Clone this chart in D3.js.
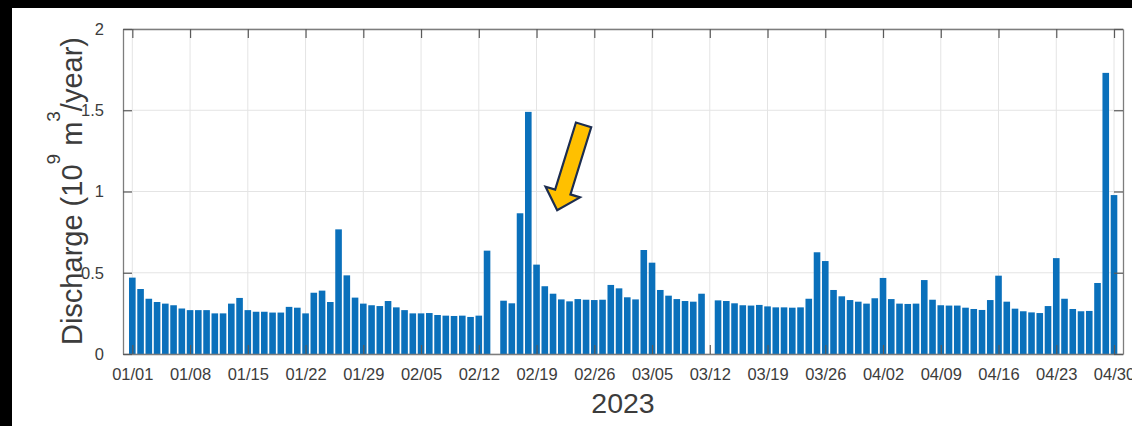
<!DOCTYPE html>
<html>
<head>
<meta charset="utf-8">
<script src="https://cdn.jsdelivr.net/npm/d3@7"></script>
<style>
  html, body { margin: 0; padding: 0; background: #000; }
  svg { display: block; }
  text { font-family: "Liberation Sans", Arial, Helvetica, sans-serif; }
</style>
</head>
<body>
<svg id="chart" width="1132" height="426"></svg>
<script>
// Daily discharge, 2023-01-01 .. 2023-04-30 (null = no observation)
const startDate = "2023-01-01";
const discharge = [
  0.47, 0.40, 0.34, 0.32, 0.31, 0.30, 0.28, 0.27, 0.27, 0.27,
  0.25, 0.25, 0.31, 0.345, 0.27, 0.26, 0.26, 0.255, 0.255, 0.29,
  0.285, 0.25, 0.377, 0.39, 0.32, 0.767, 0.484, 0.347, 0.31, 0.30,
  0.295, 0.326, 0.287, 0.27, 0.25, 0.25, 0.252, 0.24, 0.236, 0.234,
  0.236, 0.228, 0.236, 0.636, null, 0.328, 0.312, 0.866, 1.49, 0.55,
  0.417, 0.371, 0.336, 0.324, 0.338, 0.334, 0.332, 0.334, 0.425, 0.404,
  0.349, 0.336, 0.64, 0.562, 0.394, 0.359, 0.338, 0.326, 0.322, 0.371,
  null, 0.33, 0.326, 0.312, 0.30, 0.298, 0.302, 0.293, 0.287, 0.287,
  0.285, 0.287, 0.34, 0.626, 0.572, 0.394, 0.355, 0.332, 0.322, 0.31,
  0.343, 0.468, 0.338, 0.31, 0.308, 0.31, 0.455, 0.334, 0.30, 0.298,
  0.298, 0.285, 0.277, 0.271, 0.332, 0.482, 0.322, 0.279, 0.263, 0.256,
  0.252, 0.295, 0.59, 0.34, 0.277, 0.263, 0.265, 0.437, 1.73, 0.978
];
const xTickLabels = ["01/01", "01/08", "01/15", "01/22", "01/29", "02/05",
  "02/12", "02/19", "02/26", "03/05", "03/12", "03/19", "03/26", "04/02",
  "04/09", "04/16", "04/23", "04/30"];
const yTicks = [0, 0.5, 1, 1.5, 2];
const yearLabel = "2023";

// Highlight arrow, in data coordinates (day offset from startDate, value)
const arrowFrom = [54.7, 1.41];
const arrowTo = [51.5, 0.885];

const DAY = 864e5;
const t0 = new Date(startDate + "T00:00:00Z");
const days = discharge.map((v, i) => ({ date: new Date(+t0 + i * DAY), value: v }));
const tickDates = xTickLabels.map(s => new Date("2023-" + s.replace("/", "-") + "T00:00:00Z"));

const plotL = 123, plotR = 1123, plotT = 29, plotB = 354;
const svg = d3.select("#chart");

// white canvas on black frame
svg.append("rect").attr("x", 0).attr("y", 0).attr("width", 1132).attr("height", 426).attr("fill", "#000");
svg.append("rect").attr("x", 12).attr("y", 8).attr("width", 1120).attr("height", 418).attr("fill", "#fff");

const x = d3.scaleUtc()
  .domain([new Date(+t0 - 1.13 * DAY), new Date(+t0 + 120.09 * DAY)])
  .range([plotL, plotR]);
const y = d3.scaleLinear().domain([0, 2]).range([plotB, plotT]);
const barW = (x(new Date(+t0 + DAY)) - x(t0)) * 0.8;

// grid
const grid = svg.append("g").attr("stroke", "#e4e4e4").attr("stroke-width", 1);
grid.selectAll("line.v").data(tickDates).join("line")
  .attr("x1", d => x(d)).attr("x2", d => x(d)).attr("y1", plotT).attr("y2", plotB);
grid.selectAll("line.h").data(yTicks).join("line")
  .attr("x1", plotL).attr("x2", plotR).attr("y1", d => y(d)).attr("y2", d => y(d));

// bars
svg.append("g").selectAll("rect")
  .data(days.filter(d => d.value != null)).join("rect")
  .attr("x", d => x(d.date) - barW / 2)
  .attr("width", barW)
  .attr("y", d => y(d.value))
  .attr("height", d => y(0) - y(d.value))
  .attr("fill", "#0a70bb");

// axes: bottom / top / left / right with inward ticks
const axColor = "#7d7d7d", tickLen = 9;
const axB = svg.append("g").attr("transform", `translate(0,${plotB})`)
  .call(d3.axisBottom(x).tickValues(tickDates).tickSizeInner(-tickLen).tickSizeOuter(0)
    .tickFormat((d, i) => xTickLabels[i]).tickPadding(14));
const axT = svg.append("g").attr("transform", `translate(0,${plotT})`)
  .call(d3.axisTop(x).tickValues(tickDates).tickSizeInner(-tickLen).tickSizeOuter(0).tickFormat(""));
const axL = svg.append("g").attr("transform", `translate(${plotL},0)`)
  .call(d3.axisLeft(y).tickValues(yTicks).tickSizeInner(-tickLen).tickSizeOuter(0)
    .tickFormat(d3.format("~g")).tickPadding(19));
const axR = svg.append("g").attr("transform", `translate(${plotR},0)`)
  .call(d3.axisRight(y).tickValues(yTicks).tickSizeInner(-tickLen).tickSizeOuter(0).tickFormat(""));

[axB, axT, axL, axR].forEach(g => {
  g.select(".domain").attr("stroke", axColor).attr("stroke-width", 1.3);
  g.selectAll(".tick line").attr("stroke", "#5a5a5a").attr("stroke-width", 1.2);
  g.selectAll(".tick text").attr("fill", "#3c3c3c").attr("font-size", 16.5)
    .attr("font-family", "Liberation Sans, Arial, sans-serif");
});

// axis titles
svg.append("text")
  .attr("x", (plotL + plotR) / 2).attr("y", 413)
  .attr("text-anchor", "middle").attr("font-size", 28.5).attr("fill", "#3c3c3c")
  .text(yearLabel);

const yl = svg.append("text")
  .attr("transform", "translate(82,191) rotate(-90)")
  .attr("text-anchor", "middle").attr("font-size", 29).attr("fill", "#3c3c3c");
yl.append("tspan").text("Discharge (10");
yl.append("tspan").attr("font-size", 19).attr("dy", -22).text("9");
yl.append("tspan").attr("dy", 22).text(" m");
yl.append("tspan").attr("font-size", 19).attr("dy", -22).text("3");
yl.append("tspan").attr("dy", 22).text("/year)");

// arrow pointing at the February peak
const ax0 = x(new Date(+t0 + arrowFrom[0] * DAY)), ay0 = y(arrowFrom[1]);
const ax1 = x(new Date(+t0 + arrowTo[0] * DAY)), ay1 = y(arrowTo[1]);
const len = Math.hypot(ax1 - ax0, ay1 - ay0);
const ang = Math.atan2(ay1 - ay0, ax1 - ax0) * 180 / Math.PI;
const sw = 8, hw = 18, hl = 19;
const shape = [[0, -sw], [len - hl, -sw], [len - hl, -hw], [len, 0], [len - hl, hw], [len - hl, sw], [0, sw]];
svg.append("path")
  .attr("transform", `translate(${ax0},${ay0}) rotate(${ang})`)
  .attr("d", d3.line()(shape) + "Z")
  .attr("fill", "#ffc000").attr("stroke", "#1c2d50").attr("stroke-width", 2.2)
  .attr("stroke-linejoin", "miter");
</script>
</body>
</html>
